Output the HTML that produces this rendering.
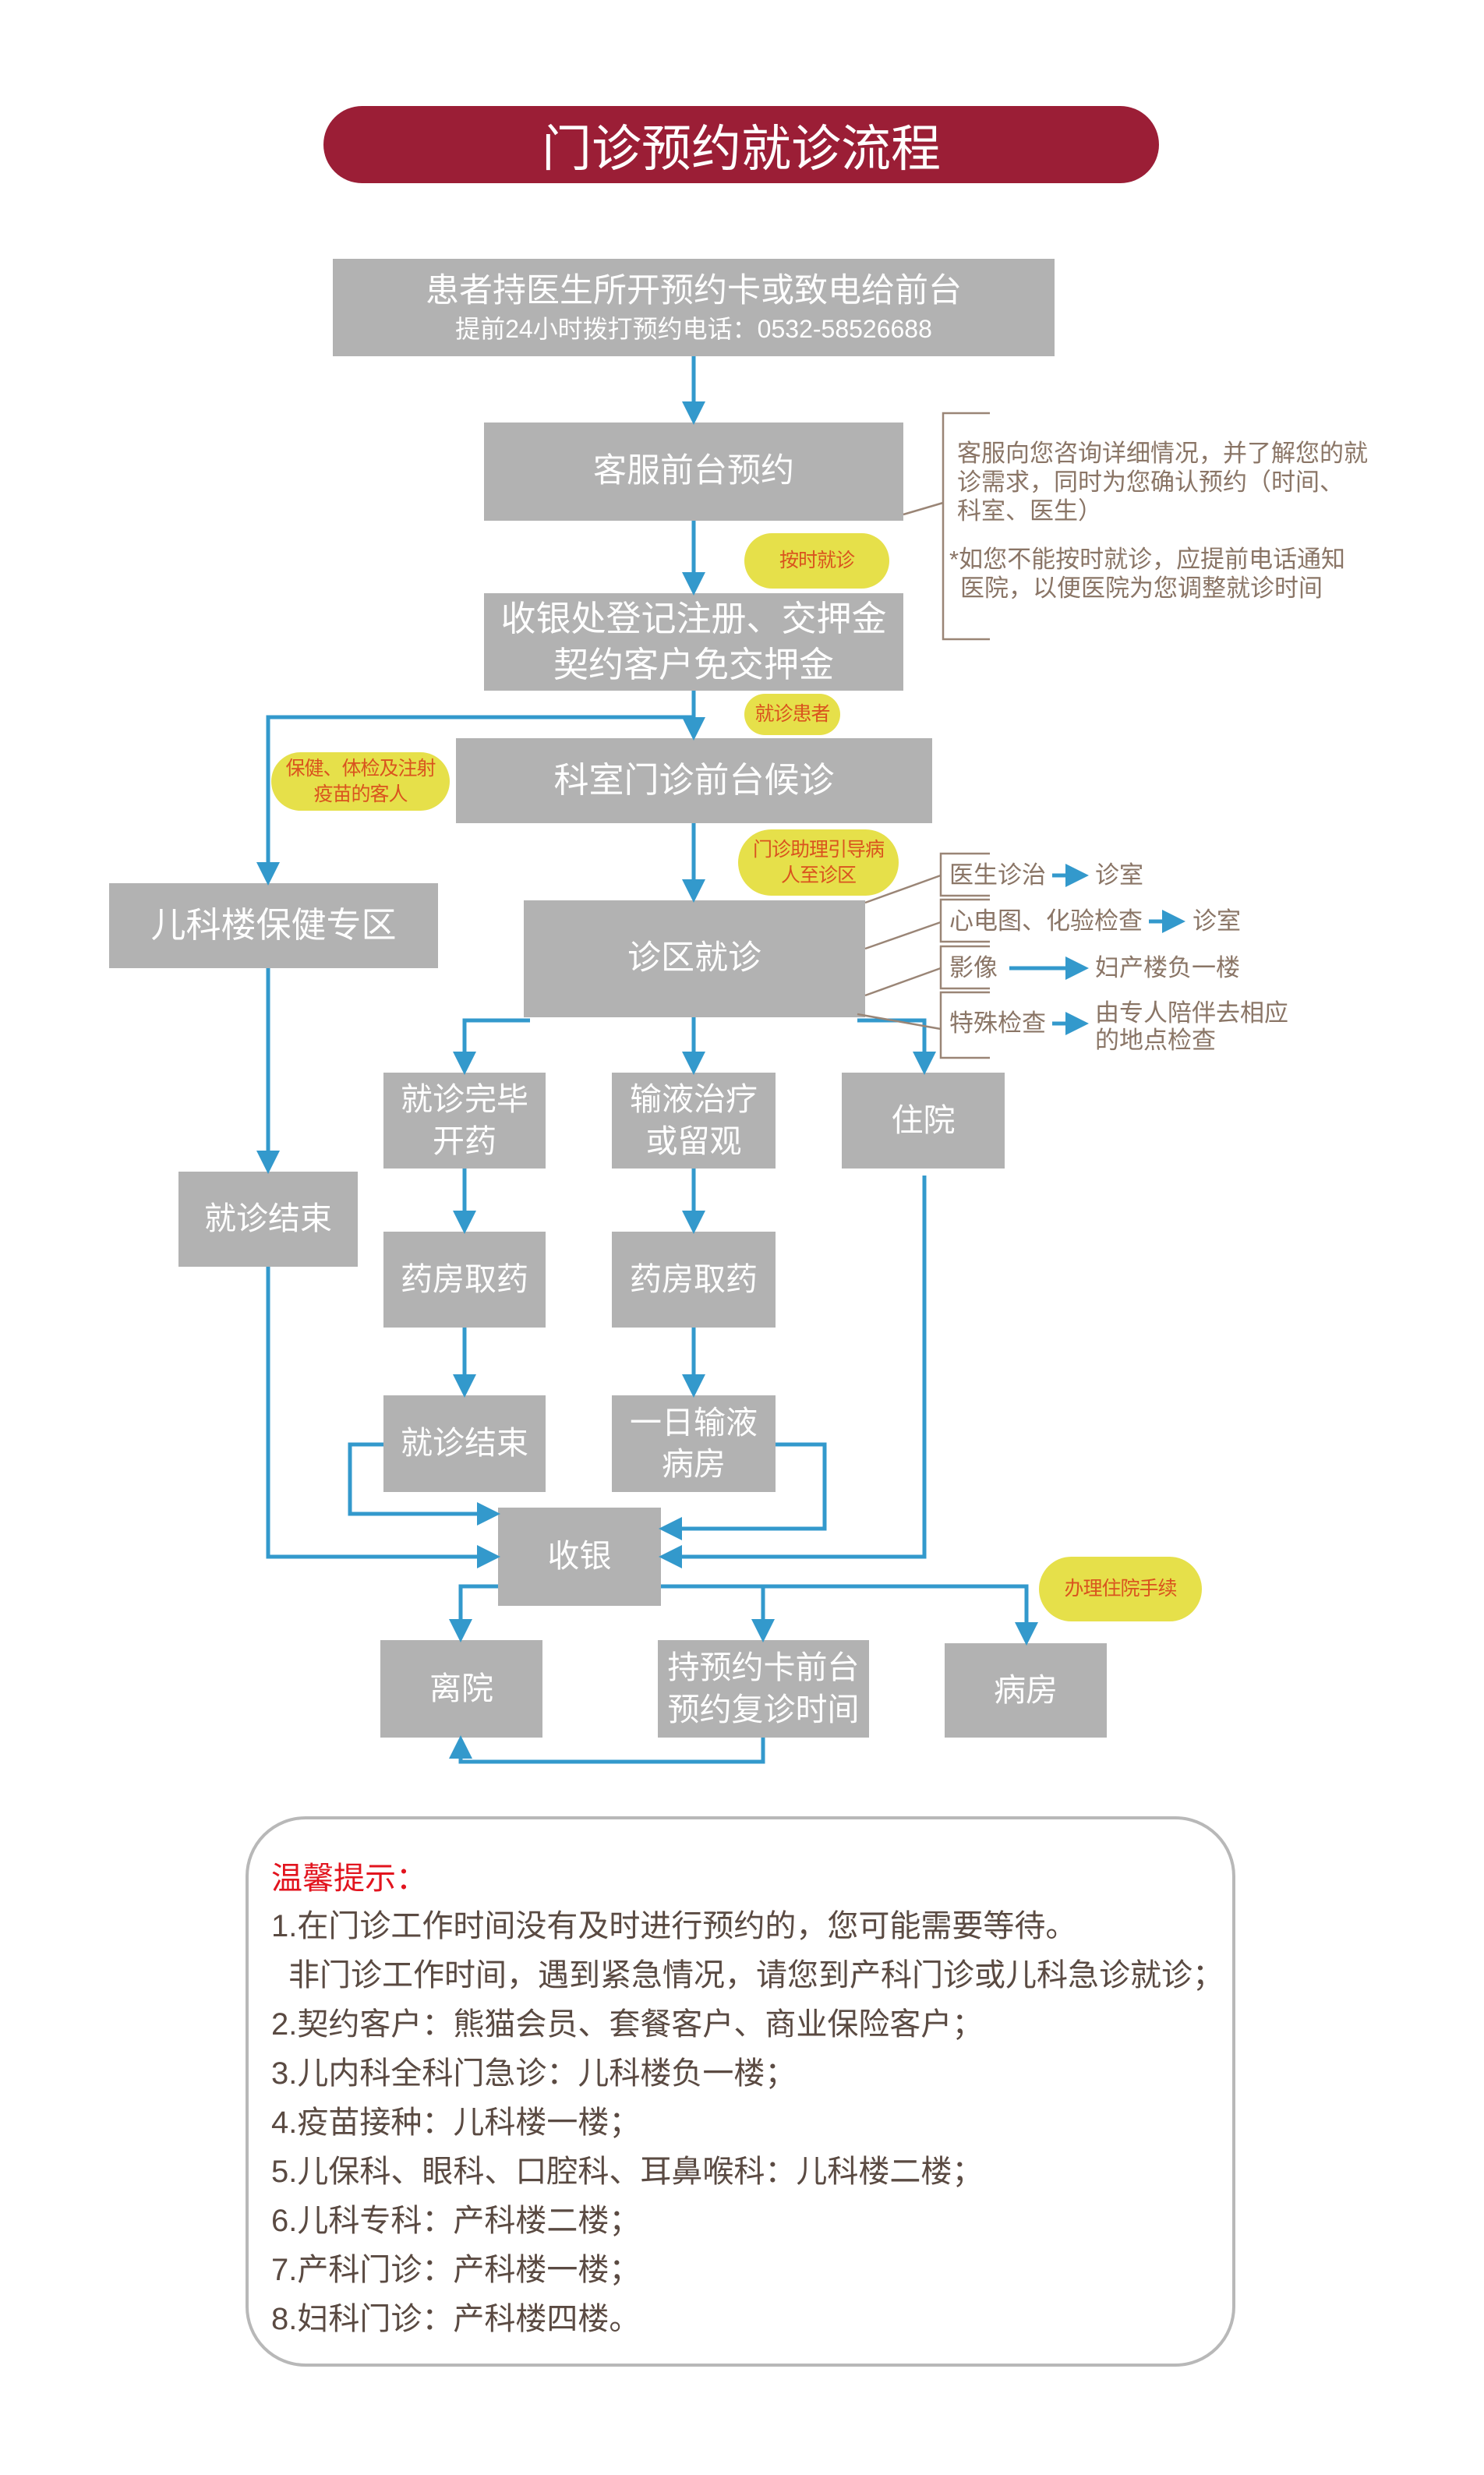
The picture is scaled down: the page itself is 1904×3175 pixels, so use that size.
<!DOCTYPE html>
<html><head><meta charset="utf-8"><style>
*{margin:0;padding:0;box-sizing:border-box}
body{width:1904px;height:3175px;background:#fff;position:relative;overflow:hidden;font-family:"Liberation Sans","Noto Sans CJK SC",sans-serif}
.b{position:absolute;background:#b2b2b2;color:#fff;display:flex;align-items:center;justify-content:center;text-align:center;line-height:1.3;font-size:41px;letter-spacing:0}
.p{position:absolute;background:#e6e04a;border-radius:45px;color:#d9531e;display:flex;align-items:center;justify-content:center;text-align:center;font-size:25px;line-height:1.3;letter-spacing:-1px}
.t{position:absolute;color:#8a7566;font-size:31px;white-space:nowrap;letter-spacing:0;line-height:1}
.n{position:absolute;left:348px;color:#5a4a42;font-size:40px;white-space:nowrap;letter-spacing:0;line-height:1}
</style></head><body>
<div style="position:absolute;left:415px;top:136px;width:1072px;height:99px;background:#9b1e36;border-radius:50px;color:#fff;font-size:64px;display:flex;align-items:center;justify-content:center;letter-spacing:0">门诊预约就诊流程</div>

<div class="b" style="left:427px;top:332px;width:926px;height:125px;flex-direction:column"><div style="font-size:43px">患者持医生所开预约卡或致电给前台</div><div style="font-size:32px">提前24小时拨打预约电话：0532-58526688</div></div>
<div class="b" style="left:621px;top:542px;width:538px;height:126px;font-size:43px">客服前台预约</div>
<div class="b" style="left:621px;top:761px;width:538px;height:125px;font-size:45px">收银处登记注册、交押金<br>契约客户免交押金</div>
<div class="b" style="left:585px;top:947px;width:611px;height:109px;font-size:45px">科室门诊前台候诊</div>
<div class="b" style="left:140px;top:1133px;width:422px;height:109px;font-size:45px">儿科楼保健专区</div>
<div class="b" style="left:672px;top:1155px;width:438px;height:150px;font-size:43px">诊区就诊</div>
<div class="b" style="left:492px;top:1376px;width:208px;height:123px">就诊完毕<br>开药</div>
<div class="b" style="left:785px;top:1376px;width:210px;height:123px">输液治疗<br>或留观</div>
<div class="b" style="left:1080px;top:1376px;width:209px;height:123px">住院</div>
<div class="b" style="left:229px;top:1503px;width:230px;height:122px">就诊结束</div>
<div class="b" style="left:492px;top:1580px;width:208px;height:123px">药房取药</div>
<div class="b" style="left:785px;top:1580px;width:210px;height:123px">药房取药</div>
<div class="b" style="left:492px;top:1790px;width:208px;height:124px">就诊结束</div>
<div class="b" style="left:785px;top:1790px;width:210px;height:124px">一日输液<br>病房</div>
<div class="b" style="left:639px;top:1934px;width:209px;height:126px">收银</div>
<div class="b" style="left:488px;top:2104px;width:208px;height:125px">离院</div>
<div class="b" style="left:844px;top:2104px;width:271px;height:125px">持预约卡前台<br>预约复诊时间</div>
<div class="b" style="left:1212px;top:2108px;width:208px;height:121px">病房</div>

<div class="p" style="left:955px;top:684px;width:186px;height:71px">按时就诊</div>
<div class="p" style="left:955px;top:890px;width:123px;height:53px">就诊患者</div>
<div class="p" style="left:348px;top:965px;width:229px;height:75px">保健、体检及注射<br>疫苗的客人</div>
<div class="p" style="left:947px;top:1064px;width:206px;height:85px">门诊助理引导病<br>人至诊区</div>
<div class="p" style="left:1333px;top:1997px;width:209px;height:83px">办理住院手续</div>

<svg style="position:absolute;left:0;top:0" width="1904" height="3175">
<defs><marker id="a" markerWidth="6" markerHeight="6" refX="5" refY="3" orient="auto" markerUnits="strokeWidth"><path d="M0,0 L6,3 L0,6 z" fill="#3399cc"/></marker></defs>
<g stroke="#3399cc" stroke-width="5" fill="none" marker-end="url(#a)">
<path d="M890 457 V540"/>
<path d="M890 668 V759"/>
<path d="M890 886 V945"/>
<path d="M890 920 H344 V1131"/>
<path d="M890 1056 V1153"/>
<path d="M680 1309 H596 V1374"/>
<path d="M890 1305 V1374"/>
<path d="M1100 1309 H1186 V1374"/>
<path d="M596 1499 V1578"/>
<path d="M890 1499 V1578"/>
<path d="M596 1703 V1788"/>
<path d="M890 1703 V1788"/>
<path d="M344 1242 V1501"/>
<path d="M344 1625 V1997 H637"/>
<path d="M492 1853 H449 V1942 H637"/>
<path d="M995 1853 H1058 V1961 H850"/>
<path d="M1186 1508 V1997 H850"/>
<path d="M639 2035 H591 V2102"/>
<path d="M848 2035 H1317 V2106"/>
<path d="M979 2035 V2102"/>
<path d="M979 2229 V2260 H591 V2231"/>
<path d="M1350 1123 H1392"/>
<path d="M1474 1182 H1516"/>
<path d="M1295 1242 H1392"/>
<path d="M1350 1313 H1392"/>
</g>
<g stroke="#9a8576" stroke-width="2.5" fill="none">
<path d="M1270 530 H1210 V820 H1270"/>
<path d="M1159 660 L1210 645"/>
<path d="M1270 1095 H1207 V1149 H1270"/>
<path d="M1270 1154 H1207 V1208 H1270"/>
<path d="M1270 1214 H1207 V1268 H1270"/>
<path d="M1270 1273 H1207 V1357 H1270"/>
<path d="M1110 1158 L1207 1123"/>
<path d="M1110 1217 L1207 1183"/>
<path d="M1110 1277 L1207 1242"/>
<path d="M1100 1301 L1207 1320"/>
</g>
<rect x="317" y="2332" width="1266" height="702" rx="75" fill="none" stroke="#b8b8b8" stroke-width="4"/>
</svg>

<div class="t" style="left:1228px;top:566px">客服向您咨询详细情况，并了解您的就</div>
<div class="t" style="left:1228px;top:603px">诊需求，同时为您确认预约（时间、</div>
<div class="t" style="left:1228px;top:640px">科室、医生）</div>
<div class="t" style="left:1218px;top:702px">*如您不能按时就诊，应提前电话通知</div>
<div class="t" style="left:1232px;top:739px">医院，以便医院为您调整就诊时间</div>

<div class="t" style="left:1218px;top:1107px">医生诊治</div>
<div class="t" style="left:1405px;top:1107px">诊室</div>
<div class="t" style="left:1218px;top:1166px">心电图、化验检查</div>
<div class="t" style="left:1530px;top:1166px">诊室</div>
<div class="t" style="left:1218px;top:1226px">影像</div>
<div class="t" style="left:1405px;top:1226px">妇产楼负一楼</div>
<div class="t" style="left:1218px;top:1297px">特殊检查</div>
<div class="t" style="left:1405px;top:1284px">由专人陪伴去相应</div>
<div class="t" style="left:1405px;top:1319px">的地点检查</div>

<div class="n" style="top:2390px;color:#e2141e">温馨提示：</div>
<div class="n" style="top:2451px">1.在门诊工作时间没有及时进行预约的，您可能需要等待。</div>
<div class="n" style="top:2514px;left:370px">非门诊工作时间，遇到紧急情况，请您到产科门诊或儿科急诊就诊；</div>
<div class="n" style="top:2577px">2.契约客户：熊猫会员、套餐客户、商业保险客户；</div>
<div class="n" style="top:2640px">3.儿内科全科门急诊：儿科楼负一楼；</div>
<div class="n" style="top:2703px">4.疫苗接种：儿科楼一楼；</div>
<div class="n" style="top:2766px">5.儿保科、眼科、口腔科、耳鼻喉科：儿科楼二楼；</div>
<div class="n" style="top:2829px">6.儿科专科：产科楼二楼；</div>
<div class="n" style="top:2892px">7.产科门诊：产科楼一楼；</div>
<div class="n" style="top:2955px">8.妇科门诊：产科楼四楼。</div>
</body></html>
